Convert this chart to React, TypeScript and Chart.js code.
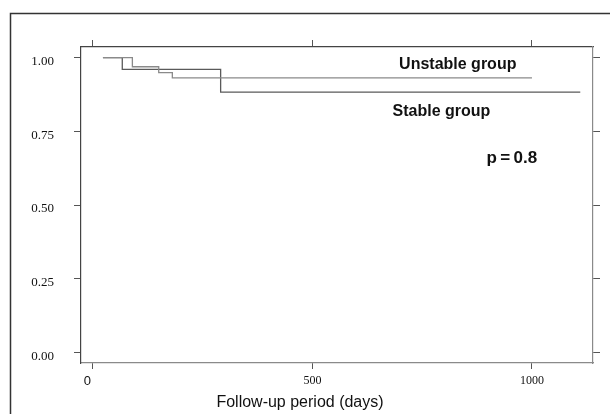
import React, { useEffect, useRef } from "react";
import { Chart, registerables } from "chart.js";

Chart.register(...registerables);

// Kaplan-Meier style step data (days, survival proportion)
const stableDays = [23, 67, 291, 1110];
const stableSurv = [1.0, 0.96, 0.883, 0.883];
const unstableDays = [23, 90, 150, 181, 1000];
const unstableSurv = [1.0, 0.969, 0.949, 0.931, 0.931];

const xTickValues = [0, 500, 1000];
const yTickValues = [0, 0.25, 0.5, 0.75, 1.0];

const seriesNames = ["Unstable group", "Stable group"];
const pValueText = "p\u2009=\u20090.8";
const xAxisTitle = "Follow-up period (days)";

const SANS = "'Liberation Sans', Arial, Helvetica, sans-serif";
const SERIF = "'Liberation Serif', 'Times New Roman', serif";

const X_MIN = -27;
const X_MAX = 1139;
const Y_MIN = -0.036;
const Y_MAX = 1.036;

export default function App() {
  const ref = useRef<HTMLCanvasElement | null>(null);

  useEffect(() => {
    document.body.style.margin = "0";
    const canvas = ref.current;
    if (!canvas) return;

    const setXTicks = (scale: any) => {
      scale.ticks = xTickValues.map((v) => ({ value: v }));
    };
    const setYTicks = (scale: any) => {
      scale.ticks = yTickValues.map((v) => ({ value: v }));
    };

    const annotations = {
      id: "annotations",
      afterDraw(chart: any) {
        const ctx = chart.ctx;
        const xs = chart.scales.x;
        const ys = chart.scales.y;
        ctx.save();
        // outer frame
        ctx.strokeStyle = "#333";
        ctx.lineWidth = 1.5;
        ctx.beginPath();
        ctx.moveTo(10.5, 414);
        ctx.lineTo(10.5, 13.5);
        ctx.lineTo(610, 13.5);
        ctx.stroke();

        ctx.fillStyle = "#111";
        ctx.textAlign = "center";
        ctx.textBaseline = "middle";
        ctx.font = `bold 16px ${SANS}`;
        ctx.fillText(seriesNames[0], xs.getPixelForValue(831), ys.getPixelForValue(0.977));
        ctx.fillText(seriesNames[1], xs.getPixelForValue(794), ys.getPixelForValue(0.818));
        ctx.font = `bold 17px ${SANS}`;
        ctx.fillText(pValueText, xs.getPixelForValue(954), ys.getPixelForValue(0.66));

        ctx.font = `16px ${SANS}`;
        ctx.fillText(xAxisTitle, 300, 403);
        ctx.restore();
      },
    };

    const chart = new Chart(canvas, {
      type: "line",
      data: {
        datasets: [
          {
            label: seriesNames[0],
            data: unstableDays.map((d, i) => ({ x: d, y: unstableSurv[i] })),
            borderColor: "#8a8a8a",
            borderWidth: 1.3,
            pointRadius: 0,
            stepped: "before",
            fill: false,
          },
          {
            label: seriesNames[1],
            data: stableDays.map((d, i) => ({ x: d, y: stableSurv[i] })),
            borderColor: "#5a5a5a",
            borderWidth: 1.3,
            pointRadius: 0,
            stepped: "before",
            fill: false,
          },
        ],
      },
      options: {
        animation: false,
        responsive: false,
        devicePixelRatio: 1,
        layout: { padding: 0 },
        plugins: {
          legend: { display: false },
          tooltip: { enabled: false },
        },
        scales: {
          x: {
            type: "linear",
            position: "bottom",
            min: X_MIN,
            max: X_MAX,
            afterBuildTicks: setXTicks,
            afterFit: (s: any) => {
              s.height = 51;
            },
            grid: {
              drawOnChartArea: false,
              drawTicks: true,
              tickLength: 6,
              tickColor: "#555",
            },
            border: { display: true, color: "#8a8a8a", width: 1.2 },
            ticks: {
              padding: 5,
              color: "#111",
              maxRotation: 0,
              callback: (v: any) => (Number(v) === 0 ? "0   " : String(v)),
              font: (c: any) =>
                c.tick && c.tick.value === 0
                  ? { family: SANS, size: 13 }
                  : { family: SERIF, size: 12 },
            },
          },
          xTop: {
            type: "linear",
            position: "top",
            min: X_MIN,
            max: X_MAX,
            afterBuildTicks: setXTicks,
            afterFit: (s: any) => {
              s.height = 47;
            },
            grid: {
              drawOnChartArea: false,
              drawTicks: true,
              tickLength: 7,
              tickColor: "#555",
            },
            border: { display: true, color: "#444", width: 1.2 },
            ticks: { display: false },
          },
          y: {
            type: "linear",
            position: "left",
            min: Y_MIN,
            max: Y_MAX,
            afterBuildTicks: setYTicks,
            afterFit: (s: any) => {
              s.width = 81;
            },
            grid: {
              drawOnChartArea: false,
              drawTicks: true,
              tickLength: 7,
              tickColor: "#555",
            },
            border: { display: true, color: "#444", width: 1.2 },
            ticks: {
              padding: 20,
              labelOffset: 4,
              color: "#111",
              font: { family: SERIF, size: 13 },
              callback: (v: any) => Number(v).toFixed(2),
            },
          },
          yRight: {
            type: "linear",
            position: "right",
            min: Y_MIN,
            max: Y_MAX,
            afterBuildTicks: setYTicks,
            afterFit: (s: any) => {
              s.width = 17;
            },
            grid: {
              drawOnChartArea: false,
              drawTicks: true,
              tickLength: 7,
              tickColor: "#555",
            },
            border: { display: true, color: "#8a8a8a", width: 1.2 },
            ticks: { display: false },
          },
        },
      } as any,
      plugins: [annotations],
    });

    return () => chart.destroy();
  }, []);

  return (
    <div style={{ position: "fixed", left: 0, top: 0, width: 610, height: 414, background: "#fff" }}>
      <canvas ref={ref} width={610} height={414} />
    </div>
  );
}
